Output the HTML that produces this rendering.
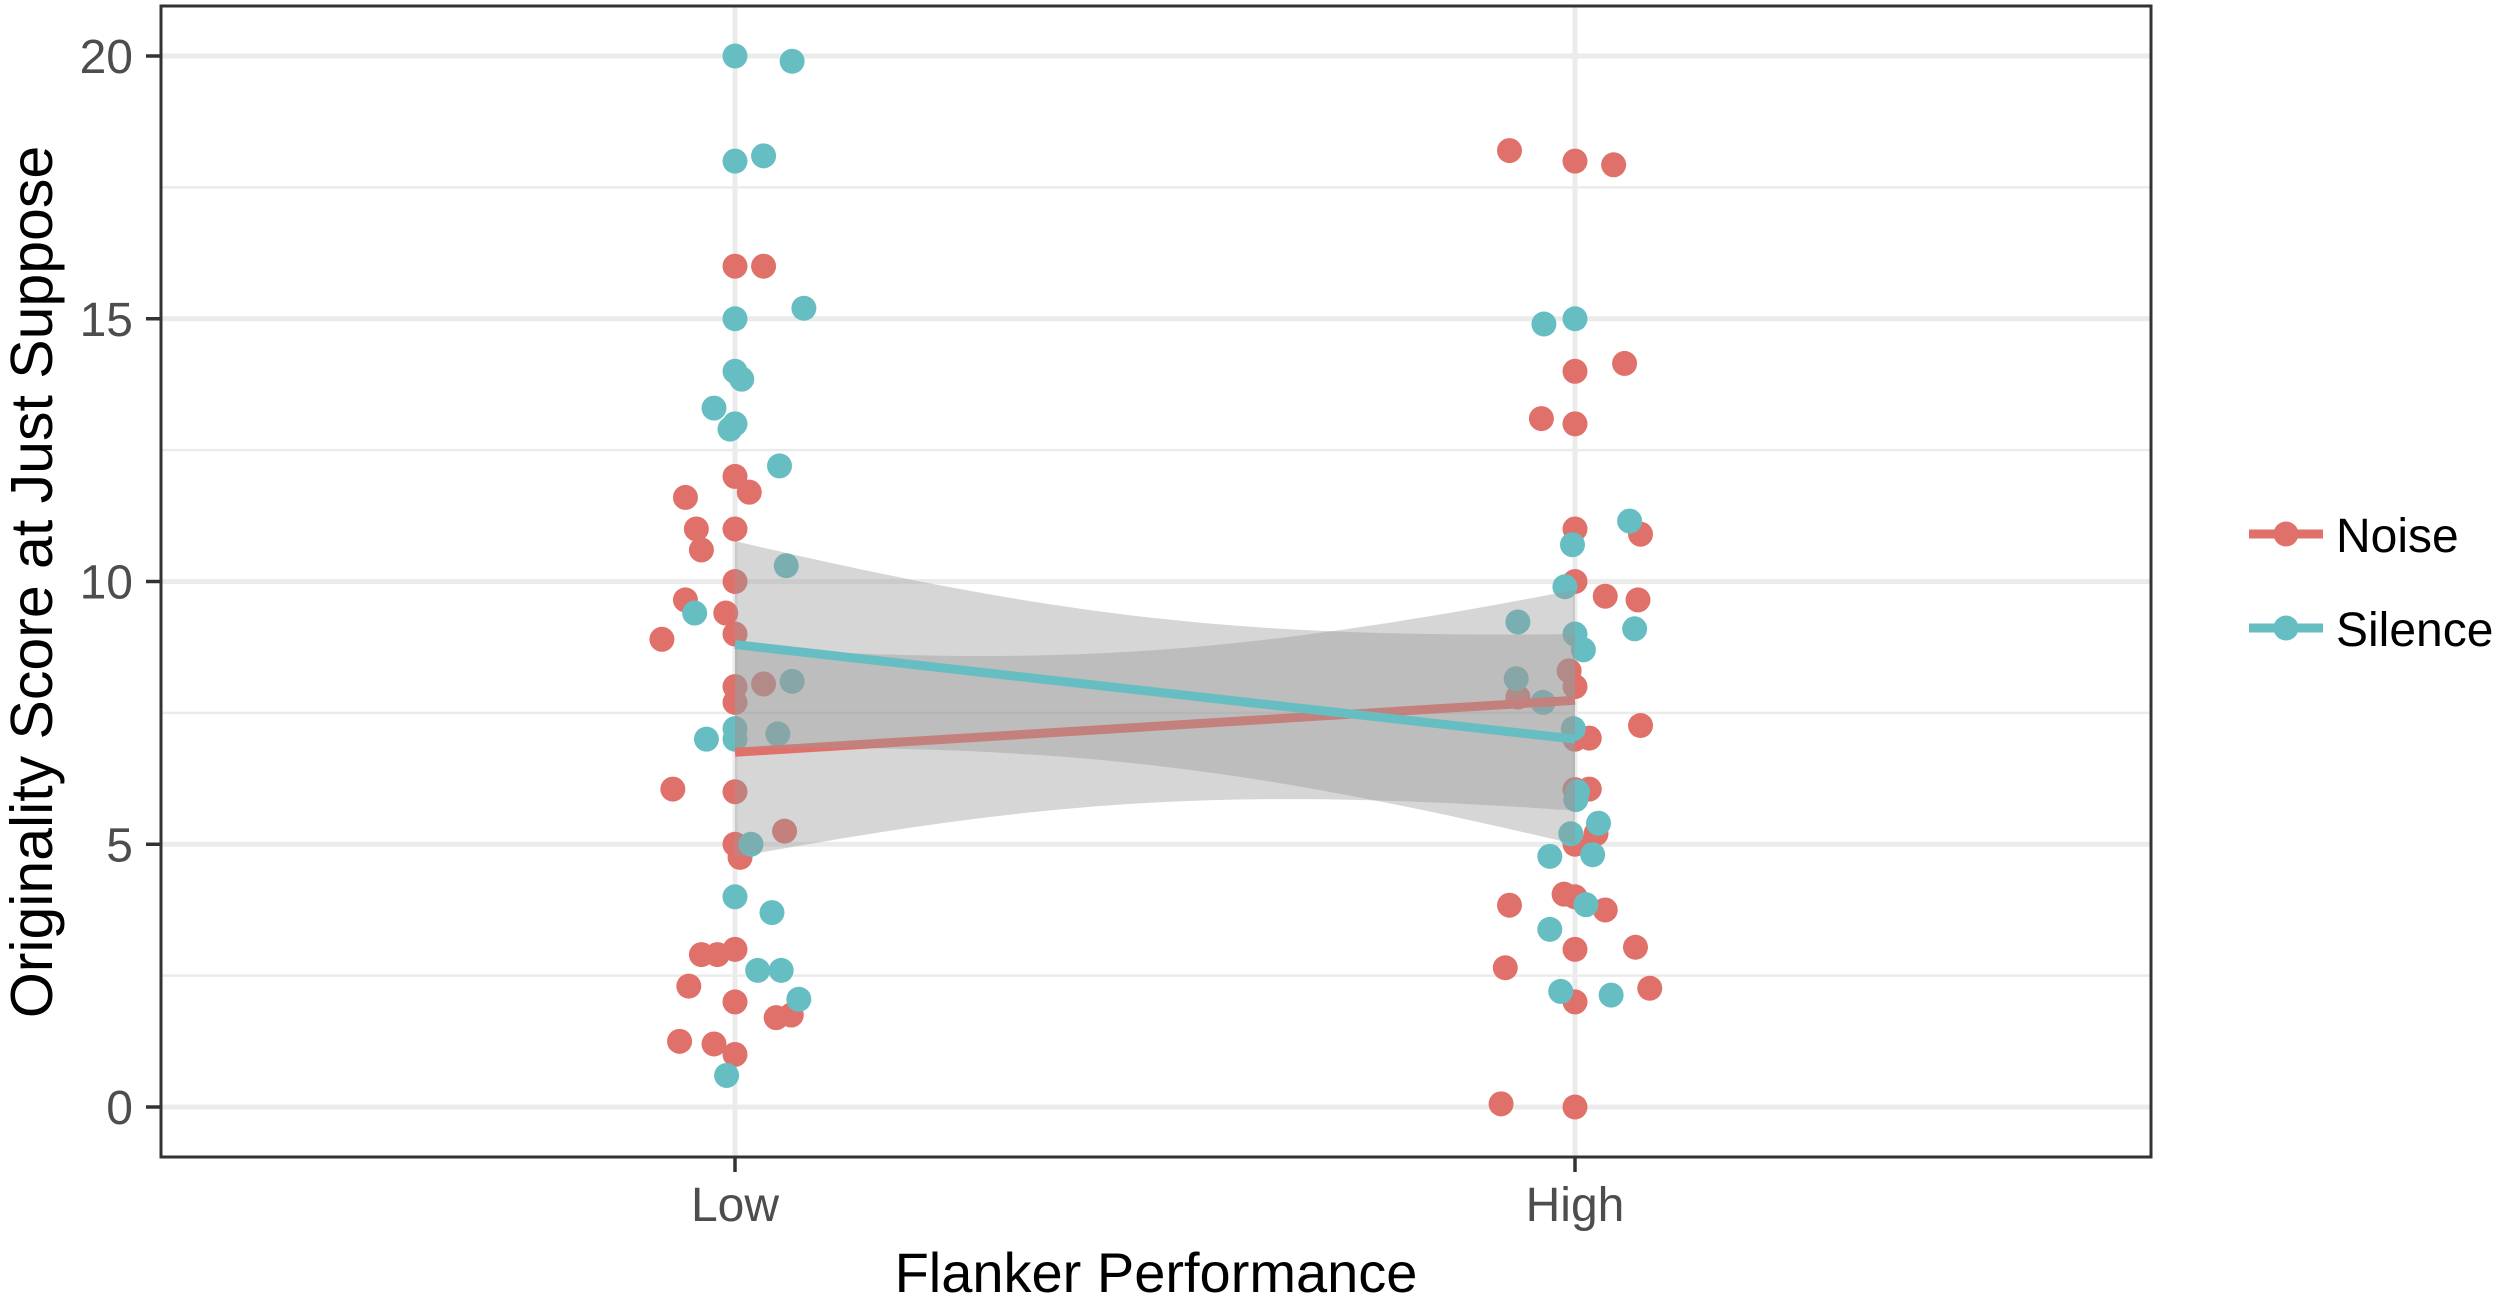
<!DOCTYPE html>
<html><head><meta charset="utf-8"><style>
html,body{margin:0;padding:0;background:#fff;}
svg{display:block;font-family:"Liberation Sans",sans-serif;}
</style></head><body>
<svg id="chart" width="2500" height="1303" viewBox="0 0 2500 1303" xmlns="http://www.w3.org/2000/svg">
<g id="grid"></g>
<g id="points"></g>
<g id="fits"></g>
<rect x="161" y="6" width="1990" height="1151" fill="none" stroke="#333" stroke-width="3"/>
<g id="axes"></g>
<text x="1156" y="1292" font-size="56" text-anchor="middle" fill="#000">Flanker Performance</text>
<text transform="translate(52,582) rotate(-90)" font-size="59" text-anchor="middle" fill="#000">Originality Score at Just Suppose</text>
<g id="legend"></g>
</svg>
<script>
const categories = ["Low","High"];
const yTicks = [0,5,10,15,20];
const conditions = ["Noise","Silence"];
const colors = {Noise:"#E0716A", Silence:"#66BEC3"};
// points: category index, jitter offset (category units), value
const noiseCat = [0,0,0,0,0,0,0,0,0,0,0,0,0,0,0,0,0,0,0,0,0,0,0,0,0,0,0,0,0,0,0,
 1,1,1,1,1,1,1,1,1,1,1,1,1,1,1,1,1,1,1,1,1,1,1,1,1,1,1,1,1,1,1,1,1];
const noiseJit = [0,0.034,0,0.017,-0.059,-0.046,0,-0.040,0,-0.059,-0.011,0,-0.087,0,0.034,0,-0.074,0,0.059,0,0.006,0,-0.040,-0.021,-0.055,0,0.049,0.067,-0.066,-0.025,0,
 -0.078,0,0.046,0.059,0,-0.040,0,0,0.078,0,0.036,0.075,-0.007,0,-0.068,0.078,0.017,0,0,0.017,0,0.025,-0.013,0,-0.078,0.036,0.072,0,-0.083,0.089,0,-0.088,0];
const noiseVal = [16,16,12,11.7,11.6,11,11,10.6,10,9.65,9.4,9,8.9,8,8.05,7.7,6.05,6,5.25,5,4.75,3,2.9,2.9,2.3,2,1.7,1.75,1.25,1.2,1.0,
 18.2,18,17.93,14.15,14,13.1,13,11,10.9,10,9.72,9.65,8.3,8,7.8,7.26,7.02,7,6.04,6.05,5,5.2,4.05,4,3.84,3.75,3.04,3,2.65,2.26,2,0.06,0];
const silenceCat = [0,0,0,0,0,0,0,0,0,0,0,0,0,0,0,0,0,0,0,0,0,0,0,0,0,0,
 1,1,1,1,1,1,1,1,1,1,1,1,1,1,1,1,1,1,1,1,1,1];
const silenceJit = [0,0.068,0,0.034,0,0.082,0,0.008,-0.025,0,-0.006,0.053,0.061,-0.048,0.068,0.051,-0.034,0,0,0.019,0,0.044,0.027,0.055,0.076,-0.010,
 -0.037,0,0.065,-0.003,-0.012,-0.068,0.071,0,0.010,-0.070,-0.038,-0.002,0.003,0.001,0.028,-0.005,-0.030,0.021,0.013,-0.030,-0.017,0.043];
const silenceVal = [20,19.9,18,18.1,15,15.2,14,13.85,13.3,13,12.9,12.2,10.3,9.4,8.1,7.1,7.0,7.2,7.0,5.0,4.0,3.7,2.6,2.6,2.05,0.6,
 14.9,15,11.15,10.7,9.9,9.23,9.1,9.0,8.7,8.15,7.7,7.2,6.0,5.85,5.4,5.2,4.77,4.8,3.85,3.38,2.2,2.13];
// linear fits at Low/High and CI half-widths
const noiseFit = [6.75,7.74];
const noiseCI = [2.0,2.1];
const silenceFit = [8.8,7.0];
const silenceCI = [1.97,2.0];

const NS="http://www.w3.org/2000/svg";
const xLow=735, xHigh=1575, y0=1107, y20=56;
function xScale(c){return xLow+(xHigh-xLow)*c;}
function yScale(v){return y0+(y20-y0)*v/20;}
function mk(tag,attrs,parent){const e=document.createElementNS(NS,tag);for(const k in attrs)e.setAttribute(k,attrs[k]);parent.appendChild(e);return e;}
const grid=document.getElementById('grid'), pts=document.getElementById('points'), fits=document.getElementById('fits'), axes=document.getElementById('axes'), leg=document.getElementById('legend');
for(let v=2.5;v<20;v+=5){
 const l=mk('line',{x1:161,x2:2151,y1:yScale(v),y2:yScale(v),stroke:'#ebebeb','stroke-width':2.5},grid);
 
 
}
yTicks.forEach(v=>{
 const l=mk('line',{x1:161,x2:2151,y1:yScale(v),y2:yScale(v),stroke:'#ebebeb','stroke-width':5},grid);
 
 
 const t=mk('line',{x1:146,x2:161,y1:yScale(v),y2:yScale(v),stroke:'#333','stroke-width':3.5},axes);
 
 
 const tx=mk('text',{x:133,y:yScale(v)+17,'font-size':48,'text-anchor':'end',fill:'#4d4d4d'},axes);
 tx.textContent=v;
 
 
});
categories.forEach((c,i)=>{
 const l=mk('line',{x1:xScale(i),x2:xScale(i),y1:6,y2:1157,stroke:'#ebebeb','stroke-width':5},grid);
 
 
 const t=mk('line',{x1:xScale(i),x2:xScale(i),y1:1157,y2:1172,stroke:'#333','stroke-width':3.5},axes);
 
 
 const tx=mk('text',{x:xScale(i),y:1221,'font-size':48,'text-anchor':'middle',fill:'#4d4d4d'},axes);
 tx.textContent=c;
 
 
});
function drawPts(cat,jit,val,col){
 for(let i=0;i<val.length;i++){
  const p=mk('circle',{cx:xScale(cat[i]+jit[i]),cy:yScale(val[i]),r:12.5,fill:col},pts);
  
  
 }
}
drawPts(noiseCat,noiseJit,noiseVal,colors.Noise);
drawPts(silenceCat,silenceJit,silenceVal,colors.Silence);
function drawFit(fit,ci,col){
 const N=40, up=[], lo=[];
 for(let k=0;k<=N;k++){
  const t=k/N, m=fit[0]*(1-t)+fit[1]*t;
  const h=Math.sqrt(Math.pow(ci[0]*(1-t),2)+Math.pow(ci[1]*t,2));
  up.push(xScale(t)+','+yScale(m+h)); lo.unshift(xScale(t)+','+yScale(m-h));
 }
 const r=mk('polygon',{points:up.concat(lo).join(' '),fill:'#999','fill-opacity':0.4},fits);
 
 
 return ()=>{
  const l=mk('line',{x1:xScale(0),y1:yScale(fit[0]),x2:xScale(1),y2:yScale(fit[1]),stroke:col,'stroke-width':9},fits);
  
  
 };
}
const ln1=drawFit(noiseFit,noiseCI,colors.Noise);
ln1();
const ln2=drawFit(silenceFit,silenceCI,colors.Silence);
ln2();
conditions.forEach((c,i)=>{
 const y=534+i*94;
 const g=mk('g',{},leg);
 
 
 mk('line',{x1:2249,x2:2323,y1:y,y2:y,stroke:colors[c],'stroke-width':9},g);
 mk('circle',{cx:2286,cy:y,r:12.5,fill:colors[c]},g);
 const t=mk('text',{x:2336,y:y+18,'font-size':48,fill:'#000'},g);
 t.textContent=c;
});
</script>
</body></html>
